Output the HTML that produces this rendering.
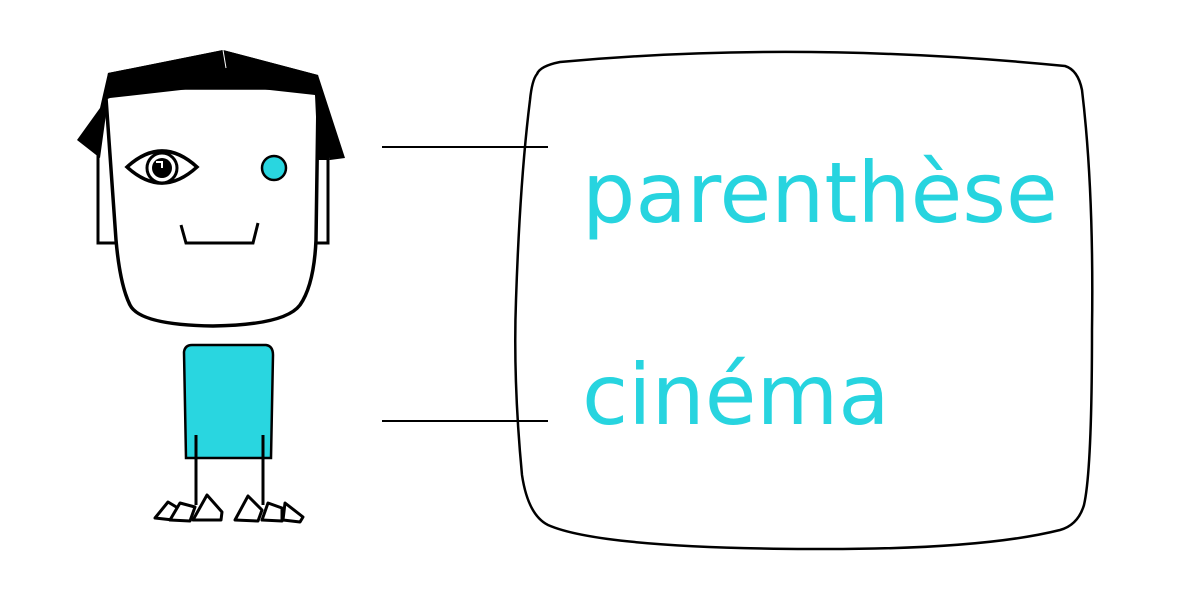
<!DOCTYPE html>
<html><head><meta charset="utf-8"><style>
html,body{margin:0;padding:0;background:#fff;}
svg{display:block}
</style></head><body>
<svg width="1181" height="593" viewBox="0 0 1181 593" xmlns="http://www.w3.org/2000/svg">
<path d="M98 140 L98 243 L118 243" fill="none" stroke="#000" stroke-width="3"/>
<path d="M328 140 L328 243 L314 243" fill="none" stroke="#000" stroke-width="3"/>
<polygon points="77,140 100,108 108,73 223,50 318,75 345,158 330,160 318,95 108,100 100,158" fill="#000"/>
<path d="M106 98 Q108 90 120 88 L305 88 Q318 90 318 100 L316 240 Q314 285 300 305 Q285 325 213 326 Q140 325 130 305 Q120 285 116 240 Z" fill="#fff" stroke="#000" stroke-width="3.5"/>
<polygon points="105,100 108,73 223,50 318,75 330,160 318,160 315,95 225,85 110,98" fill="#000"/>
<line x1="223" y1="50" x2="226" y2="68" stroke="#fff" stroke-width="1"/>
<path d="M127 167 Q162 135 197 167 Q162 199 127 167 Z" fill="#fff" stroke="#000" stroke-width="3.5"/>
<circle cx="162" cy="168" r="15" fill="#fff" stroke="#000" stroke-width="3"/>
<circle cx="162" cy="168" r="10" fill="#000"/>
<path d="M156 162 L162 162 L162 168" fill="none" stroke="#fff" stroke-width="2"/>
<circle cx="274" cy="168" r="12" fill="#29d6e0" stroke="#000" stroke-width="2.5"/>
<path d="M181 225 L186 243 L253 243 L258 223" fill="none" stroke="#000" stroke-width="3"/>
<path d="M184 352 Q185 345 192 345 L266 345 Q273 346 273 355 L271 458 L186 458 Z" fill="#29d6e0" stroke="#000" stroke-width="2.5"/>
<line x1="196" y1="435" x2="196" y2="505" stroke="#000" stroke-width="3"/>
<line x1="263" y1="435" x2="263" y2="505" stroke="#000" stroke-width="3"/>
<g fill="#fff" stroke="#000" stroke-width="3" stroke-linejoin="round">
<path d="M155 518 L168 502 L178 508 L173 520 Z"/>
<path d="M170 520 L180 503 L195 507 L190 521 Z"/>
<path d="M193 520 L207 495 L222 512 L221 520 Z"/>
<path d="M235 520 L248 496 L262 510 L258 521 Z"/>
<path d="M262 520 L268 503 L282 508 L282 521 Z"/>
<path d="M283 520 L285 503 L303 517 L300 522 Z"/>
</g>
<line x1="382" y1="147" x2="548" y2="147" stroke="#000" stroke-width="2"/>
<line x1="382" y1="421" x2="548" y2="421" stroke="#000" stroke-width="2"/>
<path d="M537 74 Q540 66 560 62 Q800 40 1065 66 Q1078 70 1082 90 Q1094 190 1092 330 Q1092 470 1084 505 Q1078 525 1060 530 Q980 550 810 549 Q600 548 548 525 Q528 515 522 475 Q513 380 516 300 Q520 180 530 100 Q532 80 537 74 Z" fill="none" stroke="#000" stroke-width="2.5"/>
<text x="582" y="222" font-family="'DejaVu Sans', Verdana, sans-serif" font-size="84" fill="#27d4df">parenthèse</text>
<text x="582" y="424" font-family="'DejaVu Sans', Verdana, sans-serif" font-size="84" fill="#27d4df">cinéma</text>
</svg>
</body></html>
